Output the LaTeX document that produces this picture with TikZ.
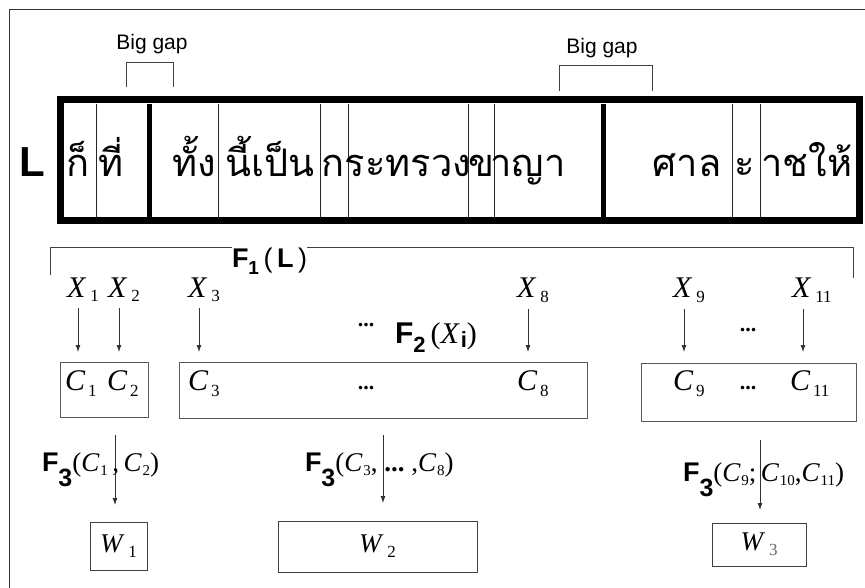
\documentclass[tikz,border=0pt]{standalone}
\usepackage{fontspec}
\usepackage{graphicx}
\setmainfont{Liberation Serif}
\newfontfamily\arialfont{Liberation Sans}
\newfontfamily\thaifont[Script=Thai]{Loma}
\usetikzlibrary{arrows.meta}

% italic symbol with an upright, lowered index
\def\subsize{16}
\def\subdrop{5pt}
\def\subkern{2pt}
\newcommand{\Sym}[2]{{\itshape #1}\kern\subkern\raisebox{-\subdrop}{\fontsize{\subsize}{\subsize}\selectfont #2}}
% bold sans F with its index
\newcommand{\Fn}[3]{{\arialfont\bfseries F\raisebox{-#3}{\fontsize{#2}{#2}\selectfont #1}}}
% handwritten line
\newcommand{\Thai}[1]{{\thaifont #1}}

\begin{document}
\begin{tikzpicture}[x=1pt, y=-1pt,
    every node/.style={inner sep=0pt, outer sep=0pt},
    frameline/.style={draw=black!80, line width=1pt},
    bracket/.style={draw=black!75, line width=0.9pt},
    thinsep/.style={draw=black!85, line width=0.8pt},
    thicksep/.style={draw=black, line width=5pt},
    gaplabel/.style={font=\arialfont\fontsize{21}{21}\selectfont},
    thai/.style={anchor=base, font=\fontsize{38}{38}\selectfont},
    xvar/.style={anchor=base west, font=\fontsize{30}{30}\selectfont\def\subsize{17}\def\subdrop{5pt}\def\subkern{5pt}},
    cvar/.style={anchor=base west, font=\fontsize{30}{30}\selectfont\def\subsize{17}\def\subdrop{6pt}\def\subkern{3pt}},
    wvar/.style={font=\fontsize{27}{27}\selectfont\def\subsize{17}\def\subdrop{5pt}\def\subkern{6pt}},
    fvar/.style={anchor=base west, font=\fontsize{27}{27}\selectfont\def\subsize{15}\def\subdrop{4pt}\def\subkern{1pt}},
    dots/.style={font=\bfseries\fontsize{22}{22}\selectfont},
    cbox/.style={draw=black!65, line width=1pt},
    wbox/.style={draw=black!75, line width=1pt},
    flow/.style={-{Latex[length=7pt,width=5pt]}, draw=black!80, line width=0.8pt}]

  \useasboundingbox (0,0) rectangle (865,588);

  % outer frame
  \draw[frameline] (9,590) -- (9,10) -- (867,10);

  % gap markers
  \node[gaplabel] (gap1) at (152,44) {Big gap};
  \node[gaplabel] (gap2) at (602,48) {Big gap};
  \draw[bracket] (126,87) -- (126,62) -- (173,62) -- (173,87);
  \draw[bracket] (559,91) -- (559,65) -- (652,65) -- (652,91);

  % the text line and its cuts
  \node[font=\arialfont\bfseries\fontsize{42}{42}\selectfont] (lbl) at (32,162) {L};
  \draw[line width=7pt] (60,100) rectangle (859,221);
  \foreach \x in {96,218,320,348,468,494,732,760}
    \draw[thinsep] (\x,104) -- (\x,218);
  \foreach \x in {149.5,603}
    \draw[thicksep] (\x,104) -- (\x,218);

  \node[thai] (t1) at (78,177) {\Thai{ก็}};
  \node[thai] (t2) at (111,177) {\Thai{ที่}};
  \node[thai] (t3) at (194,177) {\Thai{ทั้ง}};
  \node[thai] (t4) at (270,177) {\Thai{นี้เป็น}};
  \node[thai] (t5) at (333,177) {\Thai{ก}};
  \node[thai] (t6) at (408,177) {\Thai{ระทรวง}};
  \node[thai] (t7) at (481,177) {\Thai{ข}};
  \node[thai] (t8) at (528,177) {\Thai{าญา}};
  \node[thai] (t9) at (687,177) {\Thai{ศาล}};
  \node[thai] (t10) at (745,177) {\Thai{ะ}};
  \node[thai] (t11) at (807,177) {\Thai{าชให้}};

  % F1 over the whole line
  \node[anchor=base west, font=\fontsize{27}{27}\selectfont] (f1) at (232,268)
    {\Fn{1}{19}{6pt}{\arialfont\,(\,\textbf{L}\,)}};
  \draw[bracket] (50,275) -- (50,247) -- (f1.west |- 0,247);
  \draw[bracket] (f1.east |- 0,247) -- (853,247) -- (853,278);

  % characters
  \node[xvar] (x1) at (67,297) {\Sym{X}{1}};
  \node[xvar] (x2) at (108,297) {\Sym{X}{2}};
  \node[xvar] (x3) at (188,297) {\Sym{X}{3}};
  \node[xvar] (x8) at (517,298) {\Sym{X}{8}};
  \node[xvar] (x9) at (673,298) {\Sym{X}{9}};
  \node[xvar] (x11) at (792,298) {\Sym{X}{11}};
  \node[dots] (xd1) at (366,325) {...};
  \node[dots] (xd2) at (748,330) {...};
  \node[anchor=base west, font=\fontsize{30}{30}\selectfont\def\subsize{22}\def\subdrop{4pt}\def\subkern{2pt}] (f2) at (395,343)
    {\Fn{2}{22}{9pt}\,(\Sym{X}{\arialfont\bfseries i})};

  \node[cbox, minimum width=88pt, minimum height=55pt] (cb1) at (104,389.5) {};
  \node[cbox, minimum width=408pt, minimum height=56pt] (cb2) at (383,390) {};
  \node[cbox, minimum width=215pt, minimum height=58pt] (cb3) at (748.5,392) {};

  \foreach \v in {1,2,3,8,9,11}
    \draw[flow, shorten <=11pt, shorten >=10pt]
      ([xshift=11pt]x\v.base west) -- ([xshift=11pt]x\v.base west |- cb1.north);

  \node[cvar] (c1) at (65,390) {\Sym{C}{1}};
  \node[cvar] (c2) at (107,390) {\Sym{C}{2}};
  \node[cvar] (c3) at (188,390) {\Sym{C}{3}};
  \node[cvar] (c8) at (517,390) {\Sym{C}{8}};
  \node[cvar] (c9) at (673,390) {\Sym{C}{9}};
  \node[cvar] (c11) at (790,390) {\Sym{C}{11}};
  \node[dots] (cd1) at (366,388) {...};
  \node[dots] (cd2) at (748,388) {...};

  % words
  \node[wbox, wvar, minimum width=57pt, minimum height=48pt] (w1) at (118.5,546) {\Sym{W}{1}};
  \node[wbox, wvar, minimum width=199pt, minimum height=51pt] (w2) at (377.5,546.5) {\Sym{W}{2}};
  \node[wbox, wvar, minimum width=94pt, minimum height=43pt] (w3) at (759,544.5) {\Sym{W}{\textcolor{black!60}{3}}};

  \draw[flow, shorten <=18pt, shorten >=17pt] ([xshift=-3.5pt]w1.north |- cb1.south) -- ([xshift=-3.5pt]w1.north);
  \draw[flow, shorten <=17pt, shorten >=18pt] ([xshift=5.5pt]w2.north |- cb2.south) -- ([xshift=5.5pt]w2.north);
  \draw[flow, shorten <=19pt, shorten >=13pt] ([xshift=1pt]w3.north |- cb3.south) -- ([xshift=1pt]w3.north);

  \node[fvar] (f31) at (42,471) {\Fn{3}{25}{15pt}(\Sym{C}{1}\,,\,\Sym{C}{2})};
  \node[fvar] (f32) at (305,471) {\Fn{3}{25}{15pt}(\Sym{C}{3},\ \textbf{...}\ ,\Sym{C}{8})};
  \node[fvar] (f33) at (683,481) {\Fn{3}{25}{15pt}(\Sym{C}{9};\,\Sym{C}{10},\Sym{C}{11})};
\end{tikzpicture}
\end{document}
